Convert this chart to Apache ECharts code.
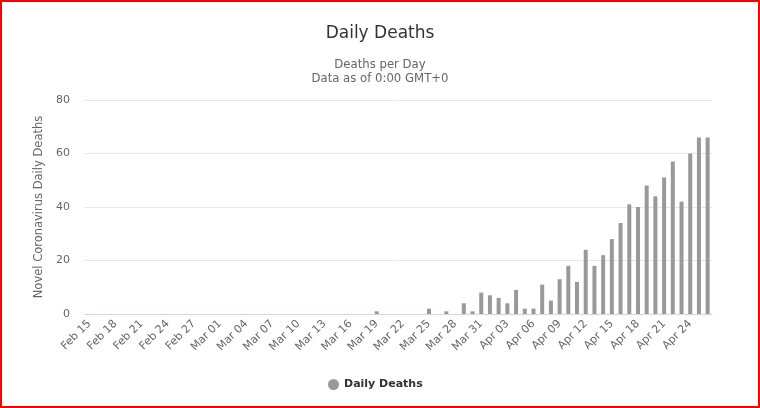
<!DOCTYPE html>
<html>
<head>
<meta charset="utf-8">
<script src="https://cdn.jsdelivr.net/npm/echarts@6/dist/echarts.min.js"></script>
<style>
html,body{margin:0;padding:0;background:#fff;}
#frame{position:absolute;left:0;top:0;width:760px;height:408px;box-sizing:border-box;border:2px solid #ff0000;}
#chart{position:absolute;left:0;top:0;width:760px;height:408px;}
</style>
</head>
<body>
<div id="chart"></div>
<div id="frame"></div>
<script>
const categories = [
  "Feb 15","Feb 16","Feb 17","Feb 18","Feb 19","Feb 20","Feb 21","Feb 22","Feb 23","Feb 24","Feb 25","Feb 26","Feb 27","Feb 28","Feb 29",
  "Mar 01","Mar 02","Mar 03","Mar 04","Mar 05","Mar 06","Mar 07","Mar 08","Mar 09","Mar 10","Mar 11","Mar 12","Mar 13","Mar 14","Mar 15","Mar 16","Mar 17","Mar 18","Mar 19","Mar 20","Mar 21","Mar 22","Mar 23","Mar 24","Mar 25","Mar 26","Mar 27","Mar 28","Mar 29","Mar 30","Mar 31",
  "Apr 01","Apr 02","Apr 03","Apr 04","Apr 05","Apr 06","Apr 07","Apr 08","Apr 09","Apr 10","Apr 11","Apr 12","Apr 13","Apr 14","Apr 15","Apr 16","Apr 17","Apr 18","Apr 19","Apr 20","Apr 21","Apr 22","Apr 23","Apr 24","Apr 25","Apr 26"
];
const dailyDeaths = [
  0,0,0,0,0,0,0,0,0,0,0,0,0,0,0,
  0,0,0,0,0,0,0,0,0,0,0,0,0,0,0,0,0,0,1,0,0,0,0,0,2,0,1,0,4,1,8,
  7,6,4,9,2,2,11,5,13,18,12,24,18,22,28,34,41,40,48,44,51,57,42,60,66,66
];
const yTicks = { min: 0, max: 80, interval: 20 };
const titleText = "Daily Deaths";
const subtitleLines = ["Deaths per Day", "Data as of 0:00 GMT+0"];
const yAxisTitle = "Novel Coronavirus Daily Deaths";
const seriesName = "Daily Deaths";

const chart = echarts.init(document.getElementById('chart'), null, {renderer: 'canvas'});
const font = '"DejaVu Sans", Verdana, sans-serif';
chart.setOption({
  animation: false,
  backgroundColor: '#ffffff',
  textStyle: { fontFamily: font },
  title: [
    { text: titleText, left: 'center', top: 20,
      textStyle: { fontSize: 17, fontWeight: 'normal', color: '#333333', fontFamily: font } },
    { text: subtitleLines.join('\n'), left: 'center', top: 53,
      textStyle: { fontSize: 11.7, fontWeight: 'normal', color: '#666666', lineHeight: 14, fontFamily: font } }
  ],
  legend: {
    bottom: 13, left: 323,
    icon: 'circle', itemWidth: 11, itemHeight: 11, itemGap: 10, itemTextGap: 7,
    textStyle: { fontSize: 11, fontWeight: 'bold', color: '#333333', fontFamily: font },
    data: [seriesName]
  },
  grid: { left: 85, right: 48, top: 100, bottom: 94, containLabel: false },
  xAxis: {
    type: 'category',
    data: categories,
    axisLine: { show: true, lineStyle: { color: '#ccd6eb', width: 1 } },
    axisTick: { show: false },
    axisLabel: { interval: 2, rotate: 45, fontSize: 11, color: '#666666', margin: 8, fontFamily: font }
  },
  yAxis: {
    type: 'value',
    min: yTicks.min, max: yTicks.max, interval: yTicks.interval,
    name: yAxisTitle, nameLocation: 'middle', nameGap: 36,
    nameTextStyle: { fontSize: 11.5, color: '#666666', fontFamily: font },
    axisLine: { show: false }, axisTick: { show: false },
    axisLabel: { fontSize: 11, color: '#666666', margin: 15, fontFamily: font },
    splitLine: { lineStyle: { color: '#e6e6e6', width: 1 } }
  },
  series: [{
    name: seriesName, type: 'bar', data: dailyDeaths,
    barWidth: 4,
    itemStyle: { color: '#999999' }
  }]
});
</script>
</body>
</html>
